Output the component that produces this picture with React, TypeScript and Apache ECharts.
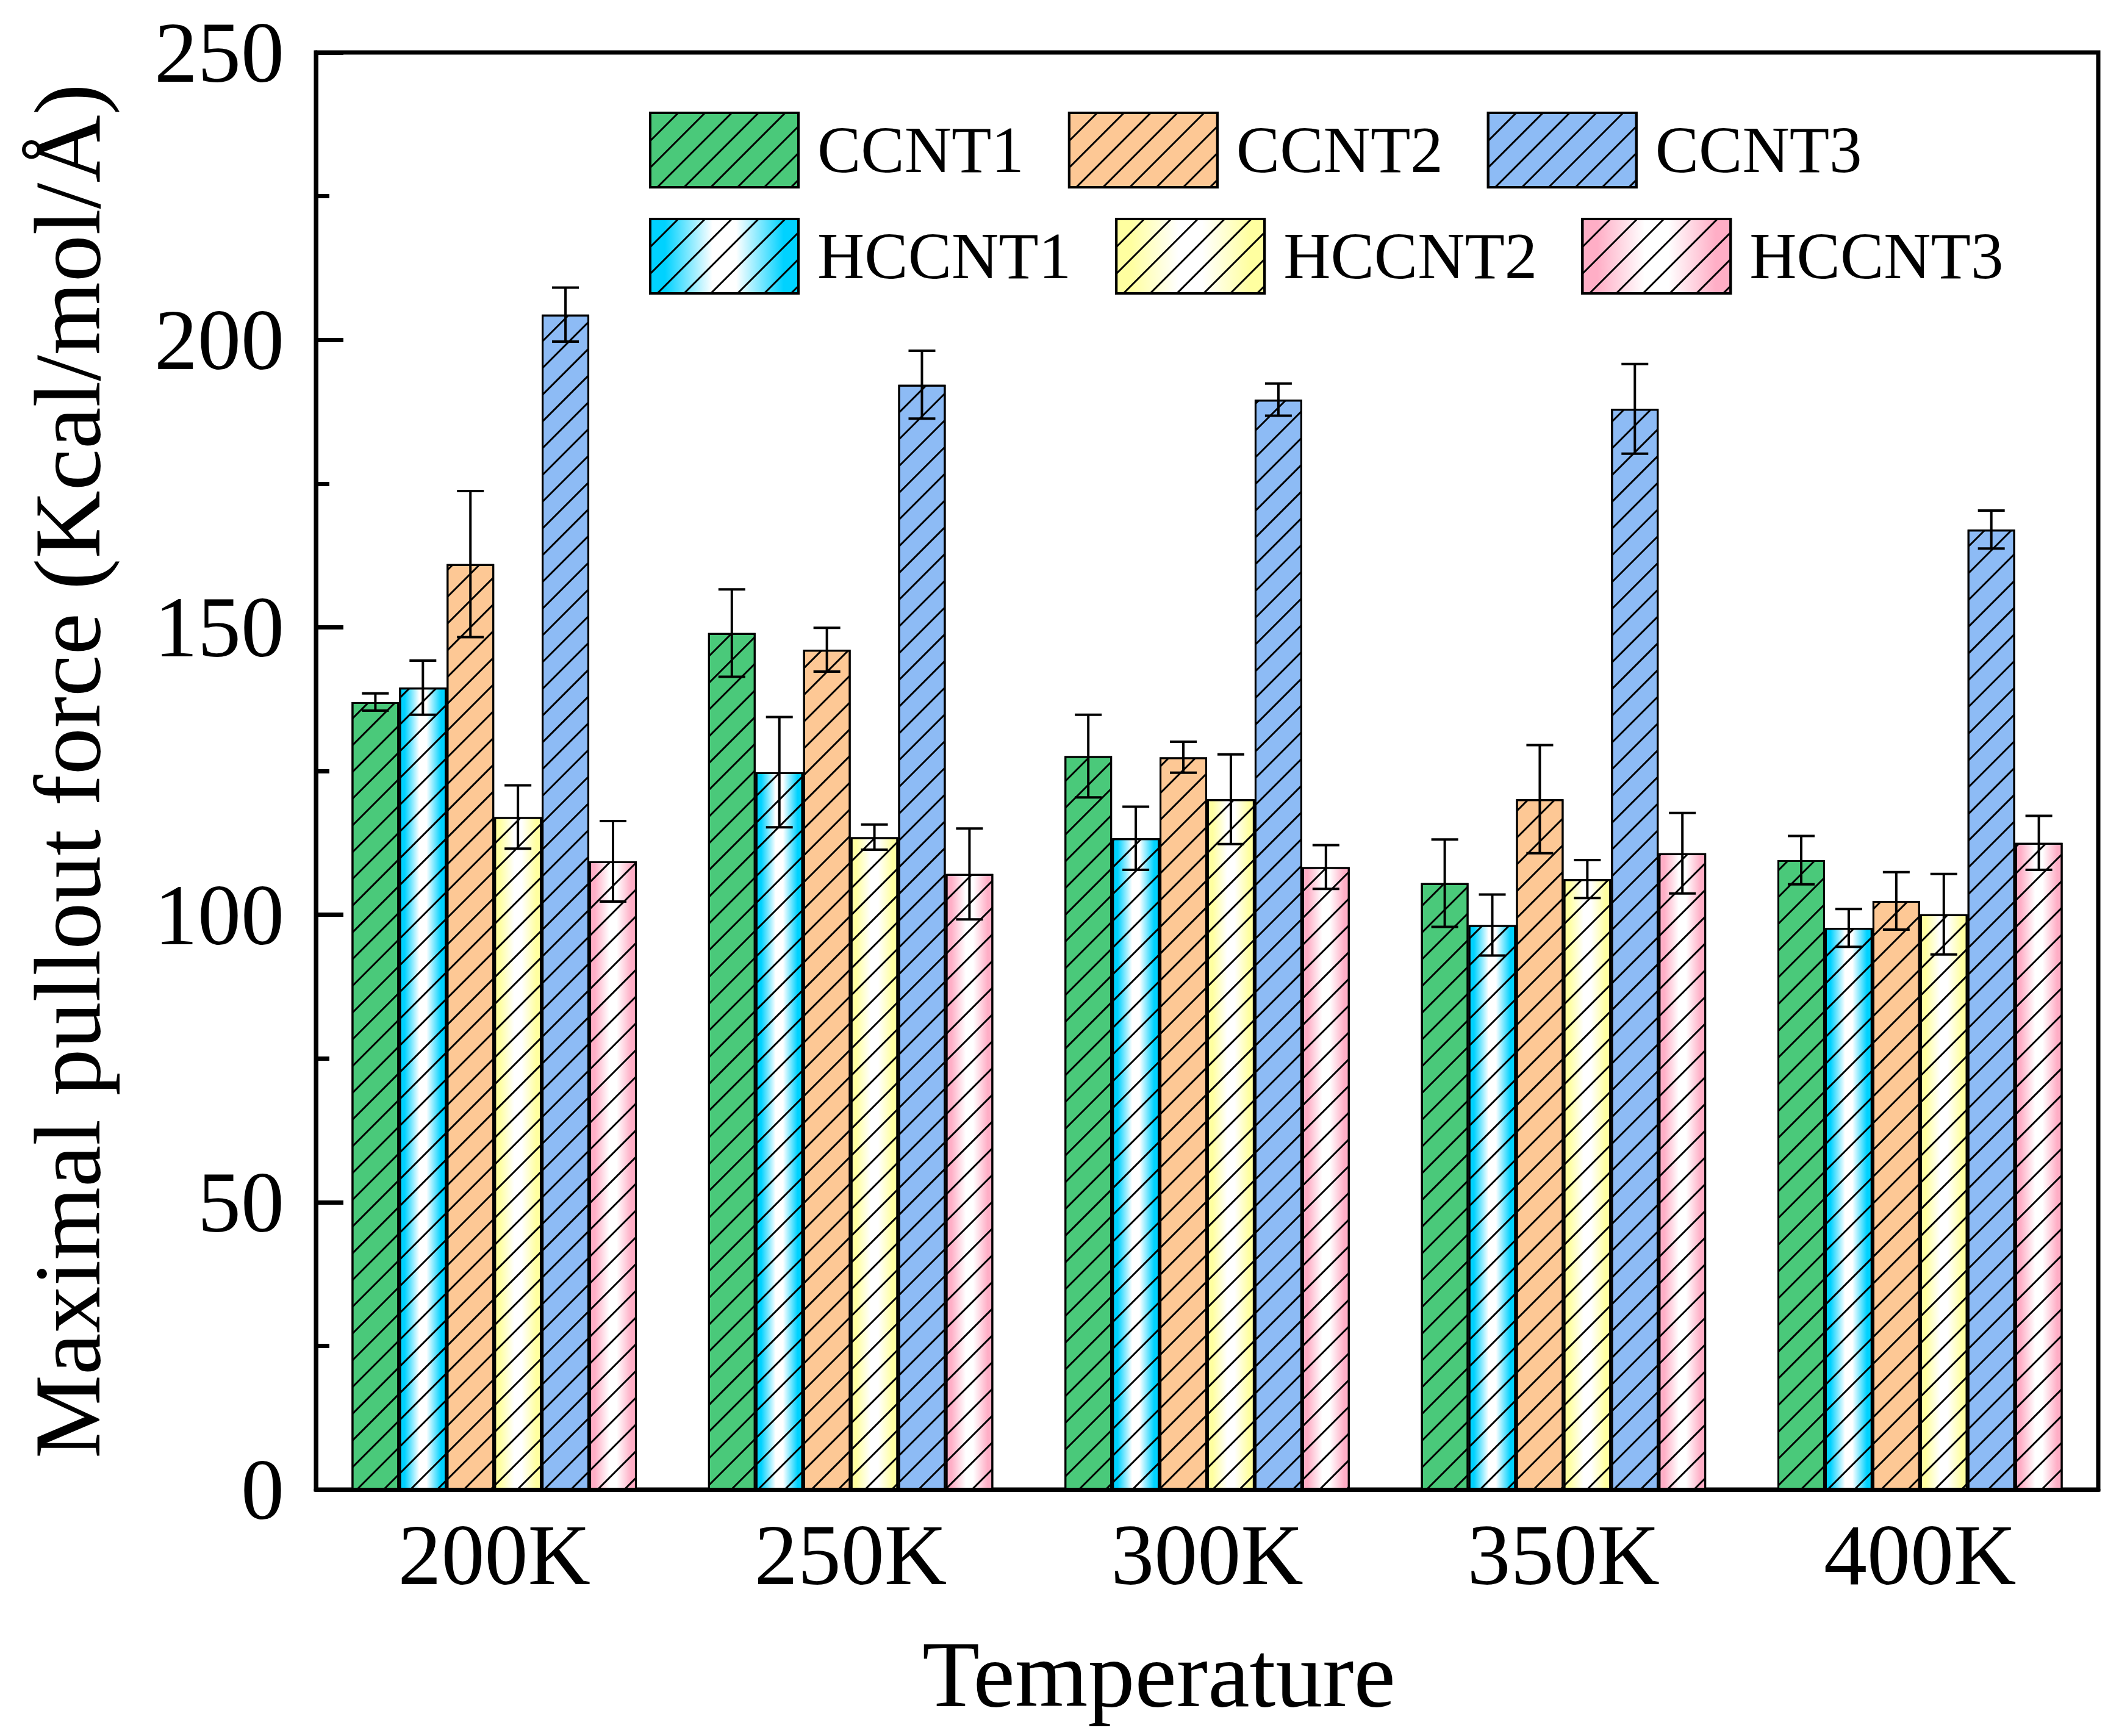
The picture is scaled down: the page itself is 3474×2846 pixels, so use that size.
import React, { useEffect, useRef } from "react";
import * as echarts from "echarts";

const temperatures = ["200K", "250K", "300K", "350K", "400K"];
const seriesNames = ["CCNT1", "HCCNT1", "CCNT2", "HCCNT2", "CCNT3", "HCCNT3"];

const ccnt1 = [137, 149, 127.6, 105.5, 109.5];
const ccnt1Err = [1.5, 7.6, 7.2, 7.6, 4.2];
const hccnt1 = [139.5, 124.8, 113.3, 98.2, 97.7];
const hccnt1Err = [4.7, 9.6, 5.5, 5.3, 3.3];
const ccnt2 = [161, 146.1, 127.4, 120.1, 102.4];
const ccnt2Err = [12.7, 3.8, 2.7, 9.4, 5];
const hccnt2 = [117, 113.5, 120.1, 106.2, 100.1];
const hccnt2Err = [5.5, 2.2, 7.8, 3.3, 7];
const ccnt3 = [204.4, 192.2, 189.6, 188, 167];
const ccnt3Err = [4.7, 5.9, 2.8, 7.8, 3.3];
const hccnt3 = [109.3, 107.1, 108.3, 110.7, 112.5];
const hccnt3Err = [7, 7.9, 3.8, 7, 4.7];

const yTicks = [0, 50, 100, 150, 200, 250];

const FONT = '"Times New Roman", "Liberation Serif", serif';

// white centre, coloured edges
const fade = (c: string) =>
  new echarts.graphic.LinearGradient(0, 0, 1, 0, [
    { offset: 0, color: c },
    { offset: 0.1, color: c },
    { offset: 0.42, color: "#ffffff" },
    { offset: 0.58, color: "#ffffff" },
    { offset: 0.9, color: c },
    { offset: 1, color: c },
  ]);

const hatch = {
  symbol: "rect",
  symbolSize: 1,
  color: "#000",
  dashArrayX: [1, 0],
  dashArrayY: [3, 28],
  rotation: -Math.PI / 4,
};

export default function App() {
  const ref = useRef<HTMLDivElement>(null);

  useEffect(() => {
    document.body.style.margin = "0";
    if (!ref.current) return;
    const chart = echarts.init(ref.current, null, { renderer: "svg" });

    const values = [ccnt1, hccnt1, ccnt2, hccnt2, ccnt3, hccnt3];
    const errors = [ccnt1Err, hccnt1Err, ccnt2Err, hccnt2Err, ccnt3Err, hccnt3Err];
    const fills: any[] = [
      "#4AC97A",
      fade("#00D2FF"),
      "#FDC895",
      fade("#FFFFA0"),
      "#8DBBF5",
      fade("#FFAEC6"),
    ];
    const n = seriesNames.length;

    const bars = seriesNames.map((name, i) => ({
      name,
      type: "bar",
      data: values[i],
      barGap: "0%",
      barCategoryGap: "20%",
      itemStyle: { color: fills[i], borderColor: "#000", borderWidth: 3, decal: hatch },
      z: 2,
    }));

    const errorBars = seriesNames.map((_, i) => ({
      type: "custom",
      data: values[i].map((v, k) => [k, v, errors[i][k]]),
      encode: { x: 0, y: 1 },
      z: 10,
      renderItem: (params: any, api: any) => {
        const k = api.value(0);
        const v = api.value(1);
        const e = api.value(2);
        const bw = api.size([1, 0])[0];
        const barW = (bw * 0.8) / n;
        const cx = api.coord([k, v])[0] - bw * 0.4 + barW * (i + 0.5);
        const top = api.coord([k, v + e])[1];
        const bot = api.coord([k, v - e])[1];
        const cap = 22;
        const style = { stroke: "#000", lineWidth: 4 };
        return {
          type: "group",
          children: [
            { type: "line", shape: { x1: cx, y1: top, x2: cx, y2: bot }, style },
            { type: "line", shape: { x1: cx - cap, y1: top, x2: cx + cap, y2: top }, style },
            { type: "line", shape: { x1: cx - cap, y1: bot, x2: cx + cap, y2: bot }, style },
          ],
        };
      },
    }));

    const legendBase = {
      orient: "horizontal",
      left: 1064,
      padding: 0,
      itemWidth: 243,
      itemHeight: 122,
      itemGap: 72,
      icon: "rect",
      itemStyle: { borderWidth: 4, borderColor: "#000" },
      textStyle: { fontSize: 107, fontFamily: FONT, color: "#000", padding: [0, 0, 0, 26] },
      selectedMode: false,
    };

    const option: any = {
      animation: false,
      backgroundColor: "#fff",
      textStyle: { fontFamily: FONT },
      grid: {
        left: 518,
        right: 34,
        top: 86,
        bottom: 404,
        show: true,
        borderColor: "#000",
        borderWidth: 7,
        backgroundColor: "transparent",
      },
      legend: [
        { ...legendBase, top: 183, data: ["CCNT1", "CCNT2", "CCNT3"] },
        { ...legendBase, top: 357, data: ["HCCNT1", "HCCNT2", "HCCNT3"] },
      ],
      xAxis: {
        type: "category",
        data: temperatures,
        name: "Temperature",
        nameLocation: "middle",
        nameGap: 226,
        nameTextStyle: { fontSize: 154, fontFamily: FONT, color: "#000", padding: [0, 158, 0, 0] },
        axisLine: { lineStyle: { color: "#000", width: 7 } },
        axisTick: { show: false },
        axisLabel: { fontSize: 142, fontFamily: FONT, color: "#000", margin: 36 },
        splitLine: { show: false },
      },
      yAxis: {
        type: "value",
        min: yTicks[0],
        max: yTicks[yTicks.length - 1],
        interval: yTicks[1] - yTicks[0],
        name: "Maximal pullout force (Kcal/mol/Å)",
        nameLocation: "middle",
        nameGap: 330,
        nameTextStyle: { fontSize: 154, fontFamily: FONT, color: "#000" },
        axisLine: { show: true, lineStyle: { color: "#000", width: 7 } },
        axisTick: { show: true, inside: true, length: 45, lineStyle: { color: "#000", width: 7 } },
        minorTick: { show: true, splitNumber: 2, length: 22, lineStyle: { color: "#000", width: 7 } },
        axisLabel: { fontSize: 142, fontFamily: FONT, color: "#000", margin: 52 },
        splitLine: { show: false },
      },
      series: [...bars, ...errorBars],
    };

    chart.setOption(option);
    const handleResize = () => chart.resize();
    window.addEventListener("resize", handleResize);
    return () => {
      window.removeEventListener("resize", handleResize);
      chart.dispose();
    };
  }, []);

  return <div ref={ref} style={{ width: 3474, height: 2846 }} />;
}
